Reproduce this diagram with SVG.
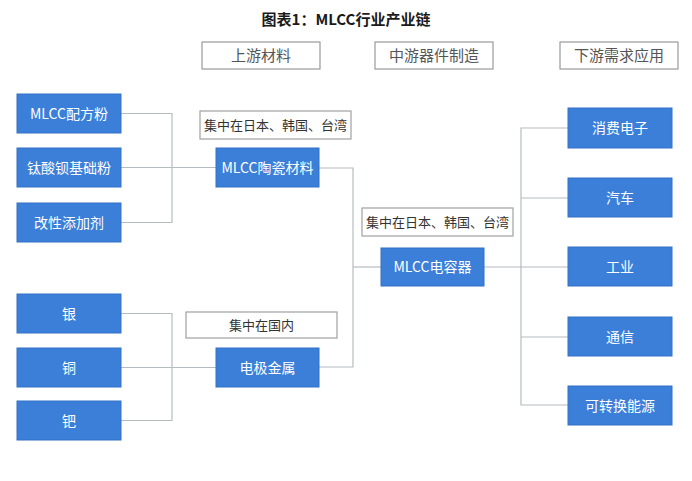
<svg xmlns="http://www.w3.org/2000/svg" width="692" height="481" viewBox="0 0 692 481">
<style>
.bg{fill:#ffffff}
.title{font-family:"Noto Sans CJK SC","Liberation Sans",sans-serif;font-size:15px;font-weight:bold;fill:#1a1a1a;text-anchor:middle}
.hdr rect{fill:#ffffff;stroke:#9a9a9a;stroke-width:1.2}
.hdr text{font-family:"Noto Sans CJK SC",sans-serif;font-size:15px;fill:#555555;text-anchor:middle}
.note rect{fill:#ffffff;stroke:#a0a0a0;stroke-width:1.2}
.note text{font-family:"Noto Sans CJK SC",sans-serif;font-size:13px;fill:#333333;text-anchor:middle}
.node rect{fill:#3b7fd9;stroke:#3272c6;stroke-width:1}
.node text{font-family:"Noto Sans CJK SC","Liberation Sans",sans-serif;font-size:14px;fill:#ffffff;text-anchor:middle}
.conn path{fill:none;stroke:#b4bcc0;stroke-width:1.2}
</style>
<rect class="bg" x="0" y="0" width="692" height="481"/>
<text class="title" x="346" y="25">图表1：MLCC行业产业链</text>

<g id="hdr-up" class="hdr"><rect x="202" y="42" width="118" height="27"/><text x="261" y="61">上游材料</text></g>
<g id="hdr-mid" class="hdr"><rect x="375" y="42" width="118" height="27"/><text x="434" y="61">中游器件制造</text></g>
<g id="hdr-down" class="hdr"><rect x="560" y="42" width="118" height="27"/><text x="619" y="61">下游需求应用</text></g>

<g id="conn" class="conn">
<path d="M121,113.5 H172 V222.5 H121"/>
<path d="M121,167.5 H216"/>
<path d="M121,313.5 H172 V420.5 H121"/>
<path d="M121,367.5 H216"/>
<path d="M319,168 H353 V367 H319"/>
<path d="M353,267 H381"/>
<path d="M484,267 H568"/>
<path d="M568,128 H521 V405 H568"/>
<path d="M521,198 H568"/>
<path d="M521,337 H568"/>
</g>

<g id="note1" class="note"><rect x="200" y="111" width="151" height="28"/><text x="275.5" y="130">集中在日本、韩国、台湾</text></g>
<g id="note2" class="note"><rect x="186" y="312" width="151" height="26"/><text x="261.5" y="330">集中在国内</text></g>
<g id="note3" class="note"><rect x="362" y="208" width="151" height="28"/><text x="437.5" y="227">集中在日本、韩国、台湾</text></g>

<g id="n-pf" class="node"><rect x="17" y="94" width="104" height="39"/><text x="69" y="118.5">MLCC配方粉</text></g>
<g id="n-tb" class="node"><rect x="17" y="148" width="104" height="39"/><text x="69" y="172.5">钛酸钡基础粉</text></g>
<g id="n-gx" class="node"><rect x="17" y="203" width="104" height="39"/><text x="69" y="227.5">改性添加剂</text></g>
<g id="n-ag" class="node"><rect x="17" y="294" width="104" height="39"/><text x="69" y="318.5">银</text></g>
<g id="n-cu" class="node"><rect x="17" y="348" width="104" height="39"/><text x="69" y="372.5">铜</text></g>
<g id="n-pd" class="node"><rect x="17" y="401" width="104" height="39"/><text x="69" y="425.5">钯</text></g>
<g id="n-tc" class="node"><rect x="216" y="148" width="103" height="39"/><text x="267.5" y="172.5">MLCC陶瓷材料</text></g>
<g id="n-dj" class="node"><rect x="216" y="348" width="103" height="39"/><text x="267.5" y="372.5">电极金属</text></g>
<g id="n-mlcc" class="node"><rect x="381" y="248" width="103" height="38"/><text x="432.5" y="272">MLCC电容器</text></g>
<g id="n-xf" class="node"><rect x="568" y="108" width="104" height="40"/><text x="620" y="133">消费电子</text></g>
<g id="n-qc" class="node"><rect x="568" y="178" width="104" height="39"/><text x="620" y="202.5">汽车</text></g>
<g id="n-gy" class="node"><rect x="568" y="247" width="104" height="39"/><text x="620" y="271.5">工业</text></g>
<g id="n-tx" class="node"><rect x="568" y="317" width="104" height="39"/><text x="620" y="341.5">通信</text></g>
<g id="n-ny" class="node"><rect x="568" y="386" width="104" height="39"/><text x="620" y="410.5">可转换能源</text></g>
</svg>
